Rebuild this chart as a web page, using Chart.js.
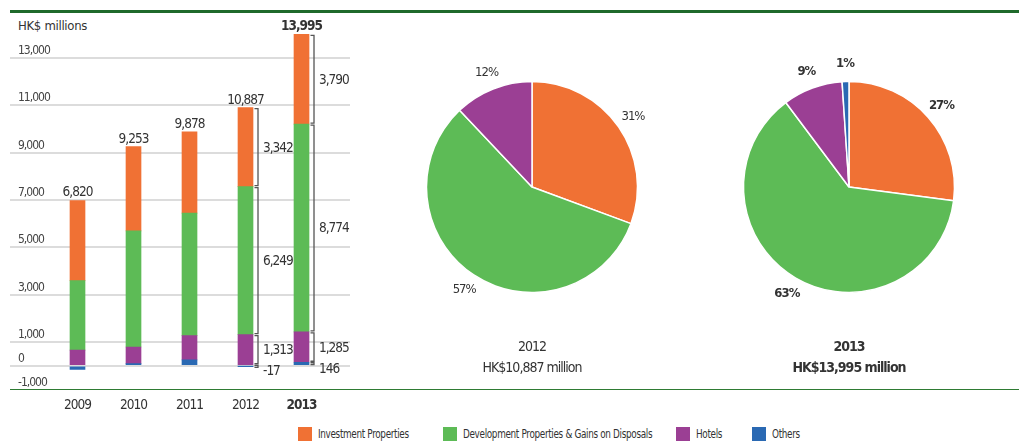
<!DOCTYPE html>
<html><head><meta charset="utf-8">
<script src="https://cdn.jsdelivr.net/npm/chart.js@4.4.1/dist/chart.umd.min.js"></script>
<style>
html,body{margin:0;padding:0;background:#fff;}
body{width:1019px;height:441px;position:relative;overflow:hidden;font-family:'DejaVu Sans Condensed','DejaVu Sans',sans-serif;font-stretch:condensed;color:#333;}
.abs{position:absolute;}
#topline{left:10px;top:10px;width:1009px;height:2.5px;background:#1f6a2b;z-index:5;}
#botline{left:10px;top:388.7px;width:1009px;height:1.5px;background:#2e7b33;z-index:5;}
#unit{left:18px;top:16px;font-size:13px;line-height:20px;letter-spacing:-0.3px;color:#333;}
.cap{text-align:center;width:240px;font-size:14px;line-height:21px;letter-spacing:-1px;color:#333;}
.leg{top:427px;height:14px;display:flex;align-items:center;font-size:12px;line-height:14px;color:#333;white-space:nowrap;}
.leg .tx{display:inline-block;letter-spacing:-0.4px;transform:scaleX(0.82);transform-origin:left center;}
.sw{width:14px;height:14px;margin-right:6px;flex:none;}
</style></head>
<body>
<div id="topline" class="abs"></div>
<div id="botline" class="abs"></div>
<div id="unit" class="abs">HK$ millions</div>
<canvas id="bars" class="abs" width="370" height="420" style="left:0;top:0;width:370px;height:420px;"></canvas>
<canvas id="pie2012" class="abs" width="320" height="320" style="left:372px;top:27px;width:320px;height:320px;"></canvas>
<canvas id="pie2013" class="abs" width="320" height="320" style="left:689px;top:27px;width:320px;height:320px;"></canvas>
<div id="cap2012" class="abs cap" style="left:412px;top:335.5px;"></div>
<div id="cap2013" class="abs cap" style="left:729px;top:336px;font-weight:bold;"></div>
<div id="legend"></div>
<script>
// ---- data ----
const years = ['2009', '2010', '2011', '2012', '2013'];
const seriesNames = ['Investment Properties', 'Development Properties & Gains on Disposals', 'Hotels', 'Others'];
const investment = [3384, 3555, 3431, 3342, 3790];
const development = [2936, 4908, 5177, 6249, 8774];
const hotels = [660, 700, 1020, 1313, 1285];
const others = [-160, 90, 250, -17, 146];
const yTicks = [-1000, 0, 1000, 3000, 5000, 7000, 9000, 11000, 13000, 15000];
const yLabelled = [-1000, 0, 1000, 3000, 5000, 7000, 9000, 11000, 13000];
const yGrid = [0, 1000, 3000, 5000, 7000, 9000, 11000, 13000];
const bracketYears = ['2012', '2013'];
const highlightYear = '2013';
const pieYears = ['2012', '2013'];

// ---- style ----
const FONT = "'DejaVu Sans Condensed','DejaVu Sans',sans-serif";
const COLORS = ['#f07134', '#5dbb56', '#9b3f94', '#2a69b3']; // inv, dev, hotels, others
const TEXT = '#333';
Chart.defaults.font.family = FONT;
Chart.defaults.color = TEXT;

const seriesValues = [investment, development, hotels, others];
const totals = years.map((_, i) => investment[i] + development[i] + hotels[i] + others[i]);
const fmt = v => v.toLocaleString('en-US');
const hiIdx = years.indexOf(highlightYear);

// condensed look for canvas text
const tightText = {
  id: 'tightText',
  beforeDraw(chart) { chart.ctx.letterSpacing = '-1px'; }
};

// ---- legend (HTML) ----
const legendLefts = [298, 443, 676, 752];
const legend = document.getElementById('legend');
seriesNames.forEach((name, k) => {
  const d = document.createElement('div');
  d.className = 'abs leg';
  d.style.left = legendLefts[k] + 'px';
  d.innerHTML = '<span class="sw" style="background:' + COLORS[k] + '"></span><span class="tx"></span>';
  d.lastChild.textContent = name;
  legend.appendChild(d);
});

// ---- bar chart ----
const stackOrder = [3, 2, 1, 0]; // bottom to top: others, hotels, development, investment
const barLabels = {
  id: 'barLabels',
  afterDatasetsDraw(chart) {
    const ctx = chart.ctx;
    const metas = chart.data.datasets.map((_, k) => chart.getDatasetMeta(k));
    ctx.save();
    ctx.letterSpacing = '-1px';
    ctx.fillStyle = TEXT;
    ctx.textBaseline = 'middle';
    years.forEach((yr, i) => {
      let top = Infinity, x = 0;
      metas.forEach(m => { const el = m.data[i]; top = Math.min(top, el.y, el.base); x = el.x; });
      ctx.textAlign = 'center';
      ctx.font = (i === hiIdx ? 'bold ' : '') + '13.5px ' + FONT;
      ctx.fillText(fmt(totals[i]), x, top - 7.5);
    });
    ctx.strokeStyle = '#555';
    ctx.lineWidth = 1.3;
    ctx.font = '13.5px ' + FONT;
    ctx.textAlign = 'left';
    bracketYears.forEach(yr => {
      const i = years.indexOf(yr);
      metas.forEach((m, k) => {
        const el = m.data[i];
        const value = chart.data.datasets[k].data[i].y;
        const top = Math.min(el.y, el.base), bottom = Math.max(el.y, el.base);
        const xr = el.x + el.width / 2;
        const lx = xr + 5;
        let t = top + 1, b = bottom - 1;
        if (b - t < 2) { const mid = (top + bottom) / 2; t = mid - 1; b = mid + 1; }
        ctx.beginPath();
        ctx.moveTo(xr + 1.5, t); ctx.lineTo(lx, t); ctx.lineTo(lx, b); ctx.lineTo(xr + 1.5, b);
        ctx.stroke();
        const ly = (bottom - top) > 12 ? (top + bottom) / 2 + 1 : bottom + 5;
        ctx.fillText(fmt(value), lx + 5, ly);
      });
    });
    ctx.restore();
  }
};

new Chart(document.getElementById('bars'), {
  type: 'bar',
  data: {
    datasets: stackOrder.map(k => ({
      label: seriesNames[k],
      data: seriesValues[k].map((v, i) => ({ x: i, y: v })),
      backgroundColor: COLORS[k],
      borderWidth: 0,
      barThickness: 15
    }))
  },
  options: {
    responsive: false,
    animation: false,
    events: [],
    layout: { padding: { top: 10.6, left: 0, right: 20, bottom: 0 } },
    plugins: { legend: { display: false }, tooltip: { enabled: false } },
    scales: {
      x: {
        type: 'linear',
        stacked: true,
        offset: false,
        min: -1.2054,
        max: 4.866,
        afterBuildTicks: s => { s.ticks = years.map((_, i) => ({ value: i })); },
        afterFit: s => { s.height = 30.6; s.paddingLeft = 0; s.paddingRight = 0; },
        grid: { display: false, drawTicks: false, offset: false },
        border: { display: false },
        ticks: {
          padding: 8,
          autoSkip: false,
          maxRotation: 0,
          color: TEXT,
          font: c => ({ size: 13.5, weight: c.index === hiIdx ? 'bold' : 'normal' }),
          callback: v => years[v]
        }
      },
      y: {
        type: 'linear',
        stacked: true,
        min: -1000,
        max: 15000,
        afterBuildTicks: s => { s.ticks = yTicks.map(v => ({ value: v })); },
        afterFit: s => { s.width = 10; s.paddingTop = 0; s.paddingBottom = 0; },
        grid: {
          drawTicks: false,
          tickLength: 0,
          lineWidth: 2,
          color: c => (c.tick && yGrid.includes(c.tick.value)) ? '#dcdcdc' : 'rgba(0,0,0,0)'
        },
        border: { display: false },
        ticks: {
          mirror: true,
          padding: 8,
          labelOffset: -7,
          color: '#444',
          font: { size: 12 },
          callback: v => yLabelled.includes(v) ? fmt(v) : null
        }
      }
    }
  },
  plugins: [tightText, barLabels]
});

// ---- pies ----
const pieLabels = {
  id: 'pieLabels',
  afterDatasetsDraw(chart) {
    const ctx = chart.ctx;
    const meta = chart.getDatasetMeta(0);
    const data = chart.data.datasets[0].data;
    const total = data.reduce((a, b) => a + b, 0);
    const bold = chart.options.plugins.pieLabels.bold;
    ctx.save();
    ctx.letterSpacing = '-1px';
    ctx.fillStyle = TEXT;
    ctx.textAlign = 'center';
    ctx.textBaseline = 'middle';
    ctx.font = (bold ? 'bold ' : '') + '13px ' + FONT;
    meta.data.forEach((arc, k) => {
      if (!data[k]) return;
      const mid = (arc.startAngle + arc.endAngle) / 2;
      const R = 123;
      ctx.fillText(Math.round(data[k] / total * 100) + '%', arc.x + Math.cos(mid) * R, arc.y + Math.sin(mid) * R);
    });
    ctx.restore();
  }
};

pieYears.forEach(yr => {
  const i = years.indexOf(yr);
  const bold = yr === highlightYear;
  new Chart(document.getElementById('pie' + yr), {
    type: 'pie',
    data: {
      labels: seriesNames,
      datasets: [{
        data: seriesValues.map(arr => Math.max(0, arr[i])),
        backgroundColor: COLORS,
        borderColor: '#ffffff',
        borderWidth: 1.5
      }]
    },
    options: {
      responsive: false,
      animation: false,
      events: [],
      layout: { padding: 53.75 },
      plugins: { legend: { display: false }, tooltip: { enabled: false }, pieLabels: { bold } }
    },
    plugins: [pieLabels]
  });
  const cap = document.getElementById('cap' + yr);
  cap.innerHTML = '<div></div><div></div>';
  cap.children[0].textContent = yr;
  cap.children[1].textContent = 'HK$' + fmt(totals[i]) + ' million';
});
</script>
</body></html>
